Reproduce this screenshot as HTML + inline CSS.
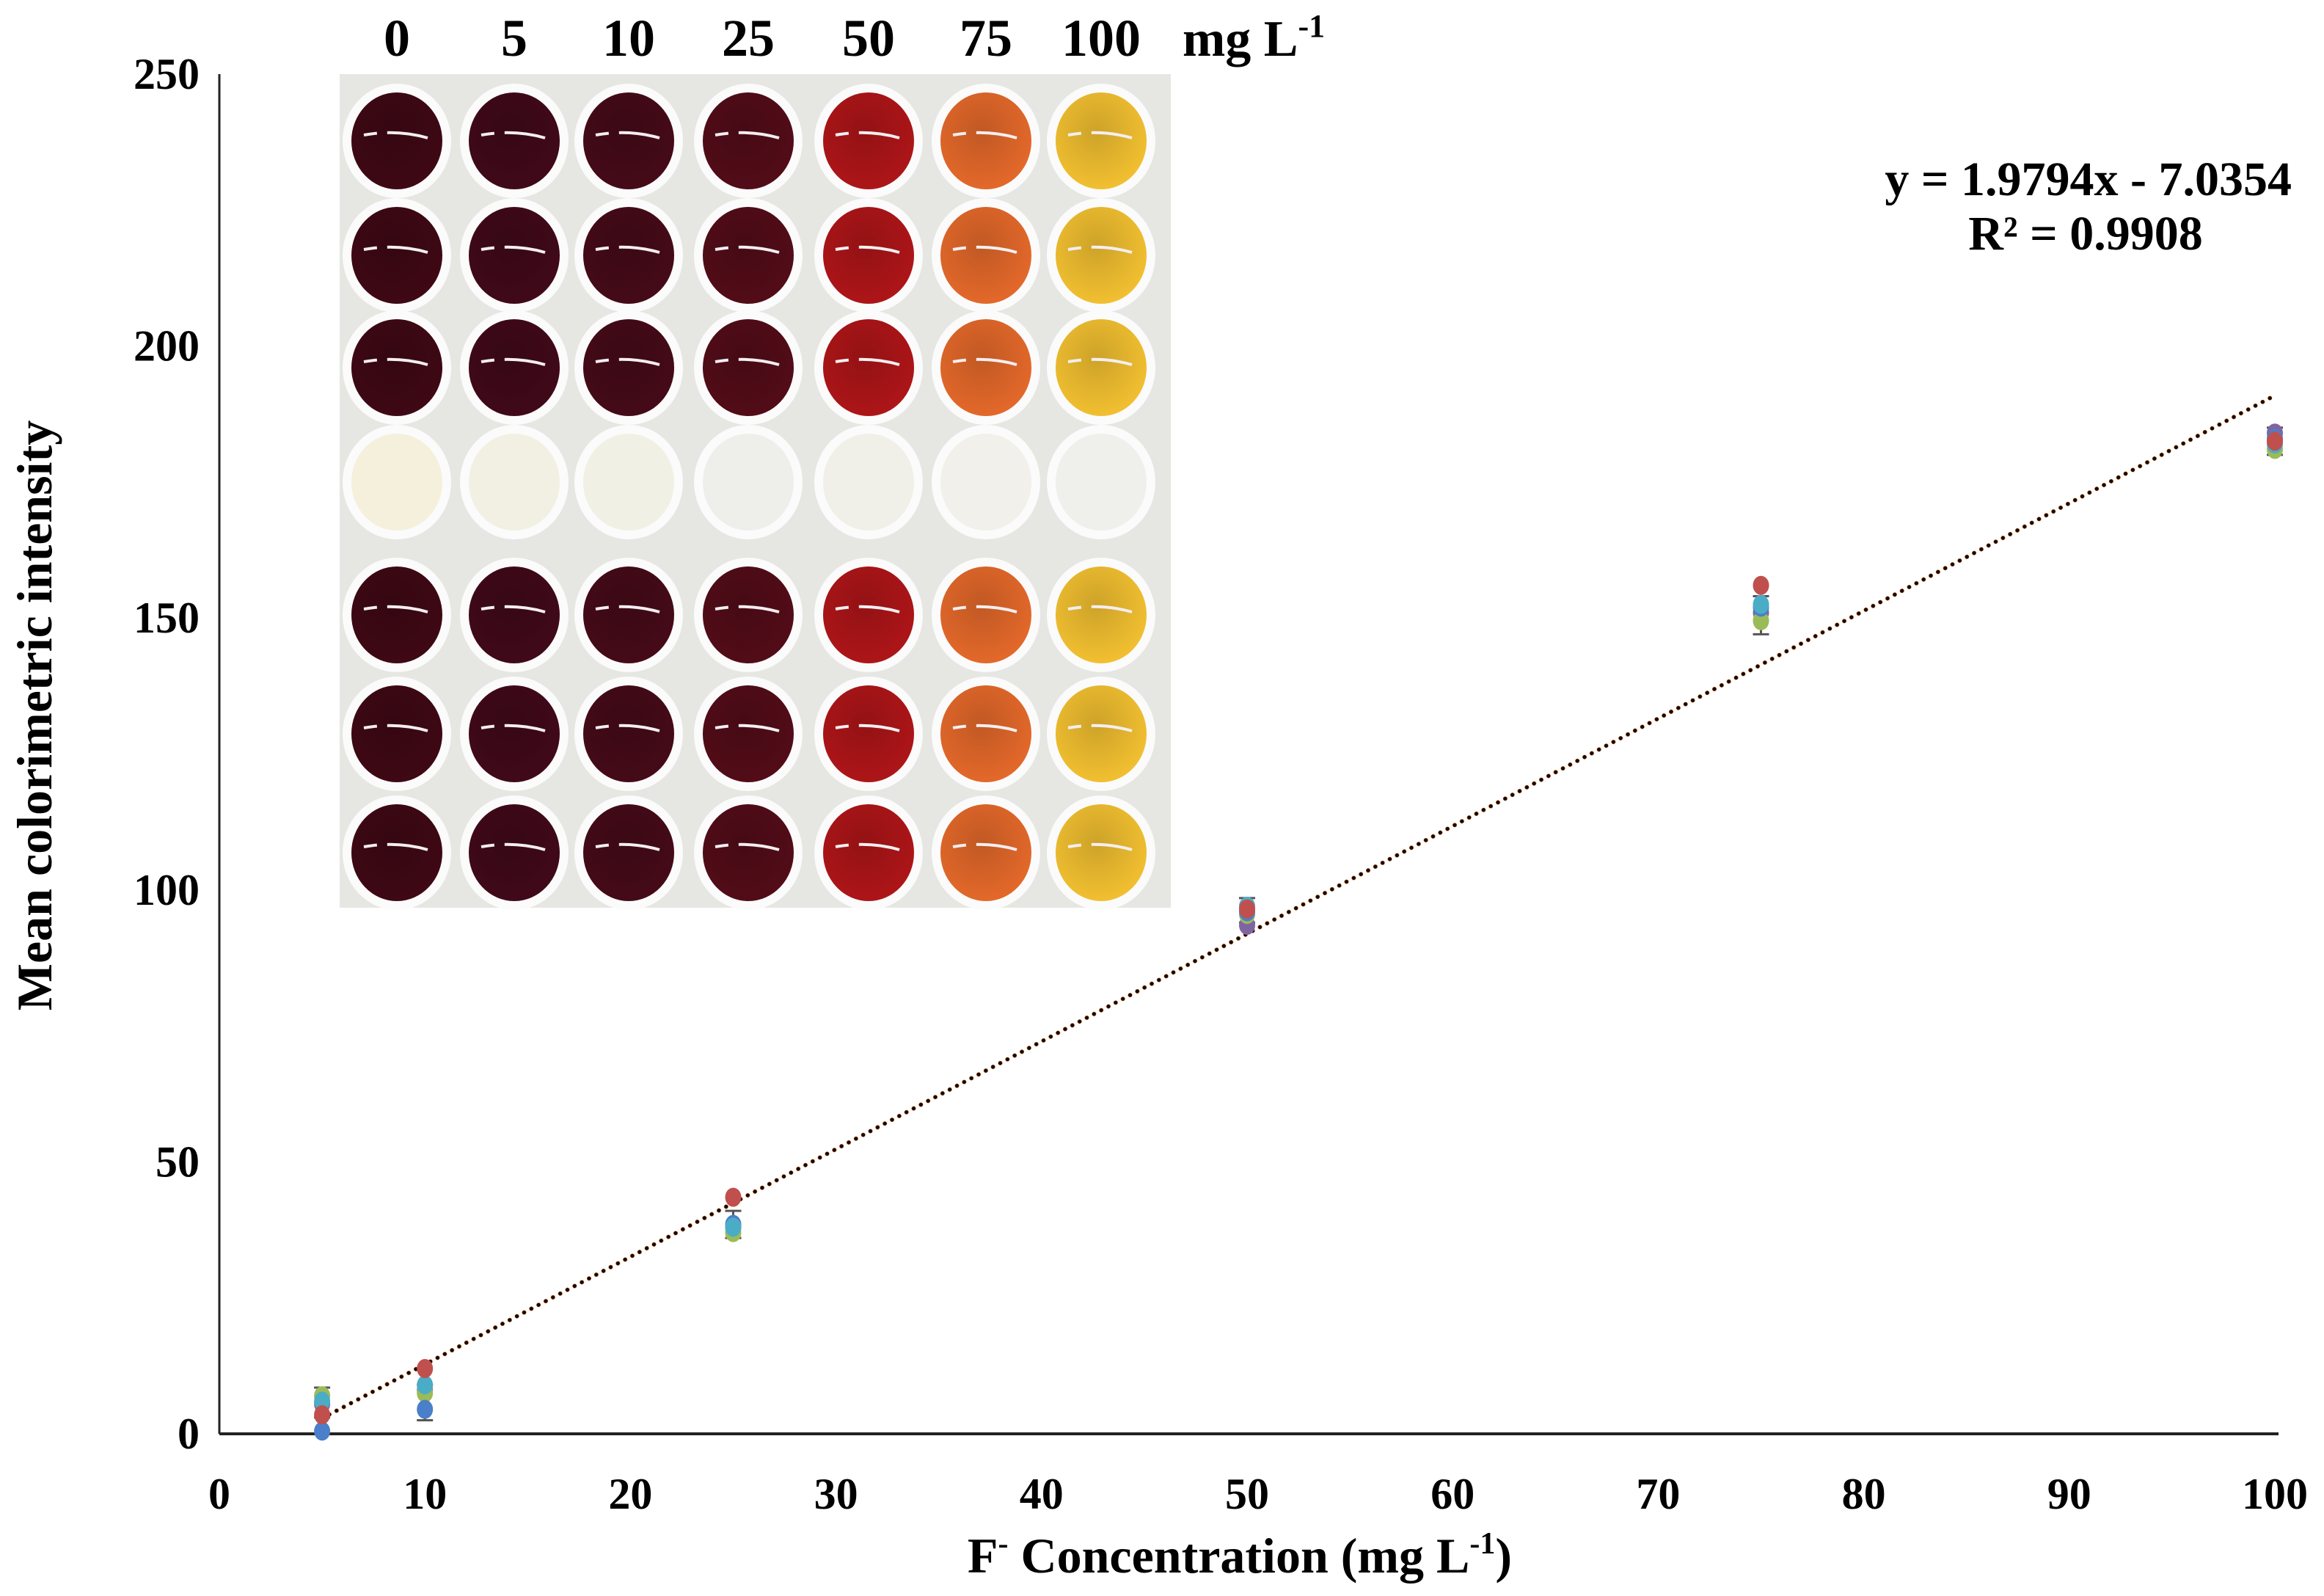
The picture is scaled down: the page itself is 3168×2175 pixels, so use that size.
<!DOCTYPE html>
<html><head><meta charset="utf-8"><style>
html,body{margin:0;padding:0;background:#fff;}
svg{display:block;font-family:"Liberation Serif",serif;font-weight:bold;}
</style></head><body>
<svg id="chart" width="3168" height="2175" viewBox="0 0 3168 2175" xmlns="http://www.w3.org/2000/svg">
<defs>
<radialGradient id="shade" cx="0.45" cy="0.4" r="0.6">
<stop offset="0" stop-color="#000" stop-opacity="0.15"/>
<stop offset="1" stop-color="#000" stop-opacity="0.0"/>
</radialGradient>
</defs>
<g id="photo"></g>
<g id="axes"></g>
<g id="trend"></g>
<g id="marks"></g>
<text x="3124" y="266" text-anchor="end" font-size="66">y = 1.9794x - 7.0354</text>
<text x="2843" y="340" text-anchor="middle" font-size="66">R² = 0.9908</text>
<text x="1690" y="2143" text-anchor="middle" font-size="68">F<tspan dy="-26" font-size="42">-</tspan><tspan dy="26"> Concentration (mg L</tspan><tspan dy="-26" font-size="42">-1</tspan><tspan dy="26">)</tspan></text>
<text transform="translate(70,975) rotate(-90)" text-anchor="middle" font-size="68">Mean colorimetric intensity</text>
</svg>
<script>
const xTicks=[0,10,20,30,40,50,60,70,80,90,100];
const yTicks=[0,50,100,150,200,250];
const concentrations=[5,10,25,50,75,100];
const seriesBlue=[0.5,4.5,38.5,96,152,183];
const seriesRed=[3.5,12,43.5,96.5,156,182.5];
const seriesGreen=[7,7.5,37,95.5,149.5,181];
const seriesPurple=[5.5,8,38,93.5,151,184];
const seriesCyan=[6,9,38,97,152.5,182];
const errLow=[3,2.5,36,94,147,180];
const errHigh=[8.5,9,41,98.5,154,185];
const slope=1.9794, intercept=-7.0354;
const wellLabels=["0","5","10","25","50","75","100"];
const wellColors=["#3e0814","#40091a","#450a18","#520c18","#ad1518","#e3682a","#f1bf30"];

const NS="http://www.w3.org/2000/svg";
const X0=299,X1=3101,Y0=1954,Y1=101;
const sx=v=>X0+(v-0)/(100-0)*(X1-X0);
const sy=v=>Y0-(v-0)/(250-0)*(Y0-Y1);
function mk(tag,attrs,parent){const e=document.createElementNS(NS,tag);for(const k in attrs)e.setAttribute(k,attrs[k]);parent.appendChild(e);return e;}

const photo=document.getElementById('photo');
mk('rect',{x:463,y:101,width:1133,height:1136,fill:'#e6e6e2'},photo);
const colX=[541,701,857,1020,1184,1344,1501];
const rowY=[192,348,501,657,838,1000,1162];
rowY.forEach((cy,r)=>{colX.forEach((cx,c)=>{
  const ring=mk('ellipse',{cx:cx,cy:cy,rx:74,ry:78,fill:'#fbfbfb'},photo);
  
  
  const col=r===3?['#f4f0dc','#f2f0e2','#f1f0e4','#eeeeea','#f0efe8','#f1f0ea','#efefec'][c]:wellColors[c];
  const w=mk('ellipse',{cx:cx,cy:cy,rx:62,ry:66,fill:col},photo);
  
  
  if(r!==3){mk('ellipse',{cx:cx,cy:cy,rx:62,ry:66,fill:'url(#shade)'},photo);
  mk('path',{d:`M${cx-45} ${cy-8} Q${cx} ${cy-16} ${cx+42} ${cy-4}`,stroke:'#f4eef0','stroke-width':4,fill:'none','stroke-dasharray':'18 14 60'},photo);}
});});
wellLabels.forEach((t,i)=>{
  const tx=mk('text',{x:colX[i],y:76,'text-anchor':'middle','font-size':72},document.getElementById('chart'));
  tx.textContent=t;
  
  
});
const unit=mk('text',{x:1612,y:76,'font-size':70},document.getElementById('chart'));
unit.innerHTML='mg L<tspan dy="-26" font-size="44">-1</tspan>';



const axes=document.getElementById('axes');
mk('line',{x1:X0,y1:Y1,x2:X0,y2:Y0,stroke:'#222','stroke-width':3},axes);
mk('line',{x1:X0,y1:Y0,x2:X1+5,y2:Y0,stroke:'#222','stroke-width':4},axes);
xTicks.forEach(v=>{
  const t=mk('text',{x:sx(v),y:Y0+102,'text-anchor':'middle','font-size':60},axes);
  t.textContent=v;
  
  
});
yTicks.forEach(v=>{
  const t=mk('text',{x:272,y:sy(v)+20,'text-anchor':'end','font-size':60},axes);
  t.textContent=v;
  
  
});

const trend=document.getElementById('trend');
const xa=5,xb=100;
mk('line',{x1:sx(xa),y1:sy(slope*xa+intercept),x2:sx(xb),y2:sy(slope*xb+intercept),stroke:'#c06020','stroke-width':6,'stroke-dasharray':'0.1 11','stroke-linecap':'round'},trend);
mk('line',{x1:sx(xa),y1:sy(slope*xa+intercept),x2:sx(xb),y2:sy(slope*xb+intercept),stroke:'#1a0a00','stroke-width':5,'stroke-dasharray':'0.1 11','stroke-linecap':'round'},trend);

const marks=document.getElementById('marks');
concentrations.forEach((c,i)=>{
  const g=mk('g',{},marks);
  
  
  mk('line',{x1:sx(c),y1:sy(errLow[i]),x2:sx(c),y2:sy(errHigh[i]),stroke:'#555','stroke-width':3},g);
  mk('line',{x1:sx(c)-11,y1:sy(errLow[i]),x2:sx(c)+11,y2:sy(errLow[i]),stroke:'#555','stroke-width':3},g);
  mk('line',{x1:sx(c)-11,y1:sy(errHigh[i]),x2:sx(c)+11,y2:sy(errHigh[i]),stroke:'#555','stroke-width':3},g);
});
const series=[[seriesPurple,'#8064a2','purple'],[seriesGreen,'#9bbb59','green'],[seriesBlue,'#4a7fc9','blue'],[seriesCyan,'#4bacc6','cyan'],[seriesRed,'#c0504d','red']];
series.forEach(([vals,col,nm])=>{
  vals.forEach((v,i)=>{
    const p=mk('ellipse',{cx:sx(concentrations[i]),cy:sy(v),rx:11,ry:13,fill:col},marks);
    
    
  });
});
</script>
</body></html>
